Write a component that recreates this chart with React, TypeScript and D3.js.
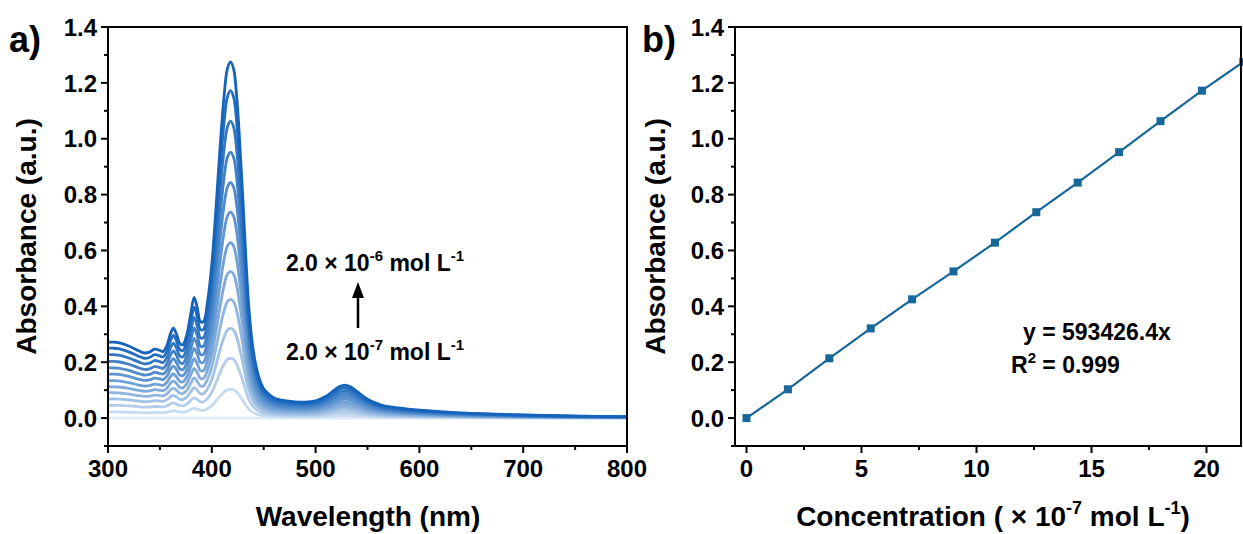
import React from "react";
import * as d3 from "d3";

// ---- Data ----
// Top (highest concentration) spectrum
const wavelengths = [300, 305, 310, 320, 330, 335, 340, 345, 350, 353, 357, 360, 363, 366, 369, 372, 376, 380, 383, 386, 389, 392, 396, 400, 404, 408, 412, 415, 418, 421, 424, 427, 430, 433, 436, 440, 445, 450, 455, 460, 470, 480, 490, 500, 510, 518, 523, 528, 533, 540, 548, 555, 565, 580, 600, 625, 650, 700, 750, 800];
const topSpectrum = [0.272, 0.272, 0.270, 0.258, 0.240, 0.233, 0.236, 0.247, 0.242, 0.238, 0.262, 0.300, 0.322, 0.300, 0.268, 0.262, 0.300, 0.380, 0.432, 0.395, 0.345, 0.345, 0.420, 0.55, 0.75, 0.97, 1.16, 1.25, 1.275, 1.25, 1.15, 0.98, 0.78, 0.56, 0.38, 0.24, 0.15, 0.105, 0.085, 0.072, 0.062, 0.058, 0.057, 0.062, 0.078, 0.100, 0.113, 0.118, 0.113, 0.095, 0.072, 0.058, 0.045, 0.036, 0.028, 0.022, 0.017, 0.011, 0.007, 0.005];
// Soret-band absorbance of each solution (also panel b values)
const soretPeaks = [0, 0.103, 0.214, 0.321, 0.425, 0.525, 0.628, 0.737, 0.843, 0.952, 1.063, 1.172, 1.275];
// Concentrations (×10^-7 mol L^-1)
const concentrations = [0, 1.8, 3.6, 5.4, 7.2, 9.0, 10.8, 12.6, 14.4, 16.2, 18.0, 19.8, 21.6];

const xTicksA = [300, 400, 500, 600, 700, 800];
const xMinorA = [350, 450, 550, 650, 750];
const yTicks = [0.0, 0.2, 0.4, 0.6, 0.8, 1.0, 1.2, 1.4];
const yMinor = [-0.1, 0.1, 0.3, 0.5, 0.7, 0.9, 1.1, 1.3];
const xTicksB = [0, 5, 10, 15, 20];
const xMinorB = [2.5, 7.5, 12.5, 17.5];

const FONT = "'Liberation Sans', Arial, sans-serif";

export default function App() {
  const W = 1243, H = 534;
  const top = 27, bottom = 446;
  const xA = d3.scaleLinear().domain([300, 800]).range([108, 627]);
  const yS = d3.scaleLinear().domain([-0.1, 1.4]).range([bottom, top]);
  const xB = d3.scaleLinear().domain([-0.5, 21.5]).range([735, 1241]);

  const line = d3
    .line<[number, number]>()
    .x((d) => xA(d[0]))
    .y((d) => yS(d[1]))
    .curve(d3.curveCatmullRom.alpha(0.5));

  const maxPeak = soretPeaks[soretPeaks.length - 1];
  const color = d3.interpolateRgb("#dfebf7", "#1563bb");
  const n = soretPeaks.length;
  const curves = soretPeaks.map((p, i) => ({
    d: line(wavelengths.map((w, j) => [w, (topSpectrum[j] * p) / maxPeak] as [number, number])) || "",
    c: color(Math.pow(i / (n - 1), 0.85)),
  }));

  const lineB = d3
    .line<number>()
    .x((_, i) => xB(concentrations[i]))
    .y((d) => yS(d));

  const tickFont = 24;
  const titleFont = 28;
  const annFont = 23;
  const supFont = 15;
  const blue = "#16679a";

  const axisBox = (x0: number, x1: number) => (
    <g stroke="#000" strokeWidth={2} fill="none">
      <rect x={x0} y={top} width={x1 - x0} height={bottom - top} />
    </g>
  );

  const yAxis = (x0: number) => (
    <g>
      {yTicks.map((t) => (
        <g key={"y" + t}>
          <line x1={x0 - 7} x2={x0} y1={yS(t)} y2={yS(t)} stroke="#000" strokeWidth={2} />
          <text x={x0 - 11} y={yS(t)} dy="0.36em" textAnchor="end" fontSize={tickFont} fontWeight="bold" fontFamily={FONT}>
            {t.toFixed(1)}
          </text>
        </g>
      ))}
      {yMinor.map((t) => (
        <line key={"ym" + t} x1={x0 - 4} x2={x0} y1={yS(t)} y2={yS(t)} stroke="#000" strokeWidth={2} />
      ))}
    </g>
  );

  return (
    <svg width={W} height={H} style={{ position: "absolute", left: 0, top: 0, background: "#fff" }}>
      <defs>
        <clipPath id="clipA">
          <rect x={108} y={top} width={519} height={bottom - top} />
        </clipPath>
        <clipPath id="clipB">
          <rect x={735} y={top} width={508} height={bottom - top} />
        </clipPath>
      </defs>
      <rect x={0} y={0} width={W} height={H} fill="#fff" />

      {/* Panel a */}
      <g clipPath="url(#clipA)">
        {curves.map((c, i) => (
          <path key={i} d={c.d} fill="none" stroke={c.c} strokeWidth={2.8} />
        ))}
      </g>
      {axisBox(108, 627)}
      {yAxis(108)}
      {xTicksA.map((t) => (
        <g key={"xa" + t}>
          <line x1={xA(t)} x2={xA(t)} y1={bottom} y2={bottom + 7} stroke="#000" strokeWidth={2} />
          <text x={xA(t)} y={bottom + 31} textAnchor="middle" fontSize={tickFont} fontWeight="bold" fontFamily={FONT}>
            {t}
          </text>
        </g>
      ))}
      {xMinorA.map((t) => (
        <line key={"xam" + t} x1={xA(t)} x2={xA(t)} y1={bottom} y2={bottom + 4} stroke="#000" strokeWidth={2} />
      ))}
      <text x={368} y={526} textAnchor="middle" fontSize={titleFont} fontWeight="bold" fontFamily={FONT}>
        Wavelength (nm)
      </text>
      <text transform={`translate(36,${(top + bottom) / 2}) rotate(-90)`} textAnchor="middle" fontSize={titleFont} fontWeight="bold" fontFamily={FONT}>
        Absorbance (a.u.)
      </text>
      <text x={9} y={52} fontSize={36} fontWeight="bold" fontFamily={FONT}>a)</text>

      {/* annotations */}
      <text x={375} y={271} textAnchor="middle" fontSize={annFont} fontWeight="bold" fontFamily={FONT}>
        2.0 × 10<tspan fontSize={supFont} dy={-10}>-6</tspan>
        <tspan dy={10}> mol L</tspan>
        <tspan fontSize={supFont} dy={-10}>-1</tspan>
      </text>
      <line x1={358} x2={358} y1={328} y2={296} stroke="#000" strokeWidth={2.5} />
      <path d="M352,298 L358,282 L364,298 Z" fill="#000" />
      <text x={375} y={360} textAnchor="middle" fontSize={annFont} fontWeight="bold" fontFamily={FONT}>
        2.0 × 10<tspan fontSize={supFont} dy={-10}>-7</tspan>
        <tspan dy={10}> mol L</tspan>
        <tspan fontSize={supFont} dy={-10}>-1</tspan>
      </text>

      {/* Panel b */}
      <g clipPath="url(#clipB)">
        <path d={lineB(soretPeaks) || ""} fill="none" stroke={blue} strokeWidth={2.2} />
        {soretPeaks.map((v, i) => (
          <rect key={i} x={xB(concentrations[i]) - 4} y={yS(v) - 4} width={8} height={8} fill={blue} />
        ))}
      </g>
      {axisBox(735, 1241)}
      {yAxis(735)}
      {xTicksB.map((t) => (
        <g key={"xb" + t}>
          <line x1={xB(t)} x2={xB(t)} y1={bottom} y2={bottom + 7} stroke="#000" strokeWidth={2} />
          <text x={xB(t)} y={bottom + 31} textAnchor="middle" fontSize={tickFont} fontWeight="bold" fontFamily={FONT}>
            {t}
          </text>
        </g>
      ))}
      {xMinorB.map((t) => (
        <line key={"xbm" + t} x1={xB(t)} x2={xB(t)} y1={bottom} y2={bottom + 4} stroke="#000" strokeWidth={2} />
      ))}
      <text x={993} y={526} textAnchor="middle" fontSize={titleFont} fontWeight="bold" fontFamily={FONT}>
        Concentration ( × 10<tspan fontSize={18} dy={-12}>-7</tspan>
        <tspan dy={12}> mol L</tspan>
        <tspan fontSize={18} dy={-12}>-1</tspan>
        <tspan dy={12}>)</tspan>
      </text>
      <text transform={`translate(665,${(top + bottom) / 2}) rotate(-90)`} textAnchor="middle" fontSize={titleFont} fontWeight="bold" fontFamily={FONT}>
        Absorbance (a.u.)
      </text>
      <text x={642} y={52} fontSize={36} fontWeight="bold" fontFamily={FONT}>b)</text>

      <text x={1023} y={340} fontSize={annFont} fontWeight="bold" fontFamily={FONT}>y = 593426.4x</text>
      <text x={1011} y={373} fontSize={annFont} fontWeight="bold" fontFamily={FONT}>
        R<tspan fontSize={supFont} dy={-10}>2</tspan>
        <tspan dy={10}> = 0.999</tspan>
      </text>
    </svg>
  );
}
